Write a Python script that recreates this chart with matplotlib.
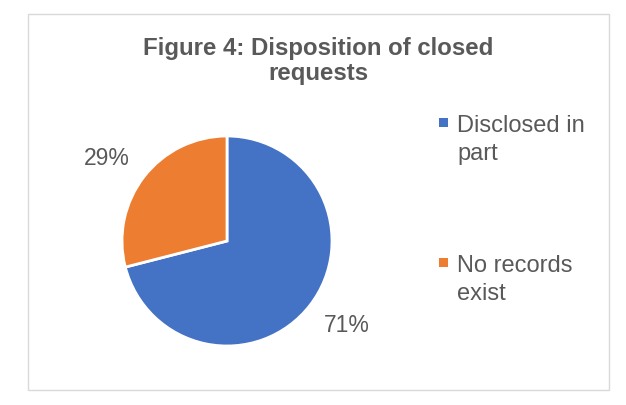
import matplotlib.pyplot as plt
from matplotlib.patches import Rectangle

labels = ["Disclosed in\npart", "No records\nexist"]
shares = [71, 29]
colors = ["#4472C4", "#ED7D31"]
text_color = "#595959"

plt.rcParams["font.family"] = ["Liberation Sans", "DejaVu Sans"]

fig = plt.figure(figsize=(6.26, 4.06), dpi=100)
W, H = 626, 406

# outer chart border
fig.patches.append(Rectangle((28 / W, 15 / H), 581 / W, 376 / H, transform=fig.transFigure,
                             fill=False, edgecolor="#D9D9D9", linewidth=1))

fig.text(318 / W, 1 - 61 / H, "Figure 4: Disposition of closed\nrequests", ha="center", va="center",
         fontsize=17.3, fontweight="bold", color=text_color, linespacing=1.08)

# pie axes: centre (227, 242), radius 105 px
ax = fig.add_axes([122 / W, (H - 242 - 105) / H, 210 / W, 210 / H])
wedges, texts, autotexts = ax.pie(shares, colors=colors, startangle=90, counterclock=False, radius=1,
                                  autopct="%1.0f%%", pctdistance=1.42,
                                  wedgeprops=dict(edgecolor="white", linewidth=2),
                                  textprops=dict(fontsize=16.5, color=text_color))
# Excel puts the labels a bit flatter than the wedge bisector
for t in autotexts:
    x, y = t.get_position()
    t.set_position((x * 1.02, y * 0.91))
ax.set_xlim(-1, 1)
ax.set_ylim(-1, 1)
ax.set_aspect("equal")
ax.axis("off")

# legend, markers aligned with the first line of each label
for i, (lab, col) in enumerate(zip(labels, colors)):
    y = 123 + i * 140
    fig.patches.append(Rectangle((439 / W, 1 - (y + 4.5) / H), 9 / W, 9 / H,
                                 transform=fig.transFigure, facecolor=col, edgecolor="none"))
    fig.text(457 / W, 1 - (y - 8) / H, lab, ha="left", va="top", fontsize=17,
             color=text_color, linespacing=1.36)

fig.savefig("out.png", dpi=100)
